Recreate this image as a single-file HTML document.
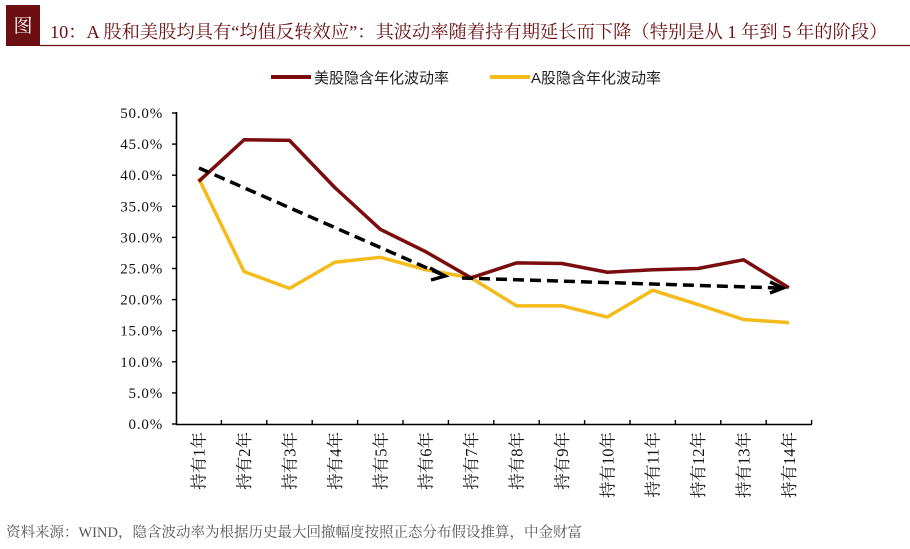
<!DOCTYPE html>
<html><head><meta charset="utf-8"><style>
body{margin:0;background:#fff;width:910px;height:549px;overflow:hidden}
svg{display:block}
.t{font-family:"Liberation Serif","Noto Serif CJK SC",serif}
</style></head><body>
<svg width="910" height="549" viewBox="0 0 910 549" xmlns="http://www.w3.org/2000/svg">
<rect x="6" y="5" width="34" height="41" fill="#6b0f12"/>
<text x="23" y="32" fill="#fff" font-size="19" text-anchor="middle" class="t">图</text>
<text x="50" y="38" fill="#6b0f12" font-size="18.3" class="t">10：A 股和美股均具有“均值反转效应”：其波动率随着持有期延长而下降（特别是从 1 年到 5 年的阶段）</text>
<line x1="40" y1="45.5" x2="910" y2="45.5" stroke="#6b0f12" stroke-width="1.2"/>
<line x1="271" y1="77" x2="311" y2="77" stroke="#7a0c0e" stroke-width="4"/>
<text x="314" y="83" font-size="15" fill="#222" font-family="Liberation Sans,'Noto Sans CJK SC',sans-serif">美股隐含年化波动率</text>
<line x1="490" y1="77" x2="530" y2="77" stroke="#f5bb1b" stroke-width="4"/>
<text x="531" y="83" font-size="15" fill="#222" font-family="Liberation Sans,'Noto Sans CJK SC',sans-serif">A股隐含年化波动率</text>
<g stroke="#000" stroke-width="1.6">
<line x1="176.5" y1="112" x2="176.5" y2="425"/>
<line x1="176" y1="424.5" x2="812" y2="424.5"/>
</g>
<g stroke="#000" stroke-width="1.4" id="yt"></g>
<g id="yl" class="t" font-size="15" fill="#111" text-anchor="end" letter-spacing="0.8"></g>
<g id="xl" class="t" font-size="16.5" fill="#111"></g>
<polyline fill="none" stroke="#f5bb1b" stroke-width="3.5" stroke-linejoin="round" points="" id="a"/>
<polyline fill="none" stroke="#7a0c0e" stroke-width="3.5" stroke-linejoin="round" points="" id="u"/>
<g stroke="#000" stroke-width="3.5" fill="none">
<line x1="199" y1="168" x2="443" y2="275" stroke-dasharray="11,6"/>
<polyline points="430,268 445,276 431,280"/>
<line x1="462" y1="278" x2="780" y2="288" stroke-dasharray="11,6"/>
<polyline points="770,282 783,288 770,293"/>
</g>
<text x="6" y="537" font-size="14.5" fill="#555" font-family="Liberation Serif,'Noto Serif CJK SC',serif">资料来源：WIND，隐含波动率为根据历史最大回撤幅度按照正态分布假设推算，中金财富</text>
</svg>
<script>
var ns="http://www.w3.org/2000/svg";
function Y(v){return 424-v*6.22}
var yt=document.getElementById('yt'),yl=document.getElementById('yl'),xl=document.getElementById('xl');
for(var i=0;i<=10;i++){var y=Y(i*5);
var l=document.createElementNS(ns,'line');l.setAttribute('x1',172);l.setAttribute('x2',176);l.setAttribute('y1',y);l.setAttribute('y2',y);yt.appendChild(l);
var t=document.createElementNS(ns,'text');t.setAttribute('x',163);t.setAttribute('y',y+5);t.textContent=(i*5).toFixed(1)+'%';yl.appendChild(t);}
for(var i=1;i<=14;i++){var x=176+i*45.4;
var l=document.createElementNS(ns,'line');l.setAttribute('x1',x);l.setAttribute('x2',x);l.setAttribute('y1',424);l.setAttribute('y2',420);yt.appendChild(l);
var cx=176+(i-0.5)*45.4;
var t=document.createElementNS(ns,'text');t.setAttribute('transform','translate('+(cx+6)+',432) rotate(-90)');t.setAttribute('text-anchor','end');t.textContent='持有'+i+'年';xl.appendChild(t);}
var U=[39,45.7,45.6,38,31.3,27.7,23.5,25.9,25.8,24.4,24.8,25,26.4,21.9];
var A=[39.5,24.5,21.8,26,26.8,24.8,23.5,19,19,17.2,21.5,19.2,16.8,16.3];
function P(d){return d.map(function(v,i){return (176+(i+0.5)*45.4)+','+Y(v)}).join(' ')}
document.getElementById('u').setAttribute('points',P(U));
document.getElementById('a').setAttribute('points',P(A));
</script>
</body></html>
